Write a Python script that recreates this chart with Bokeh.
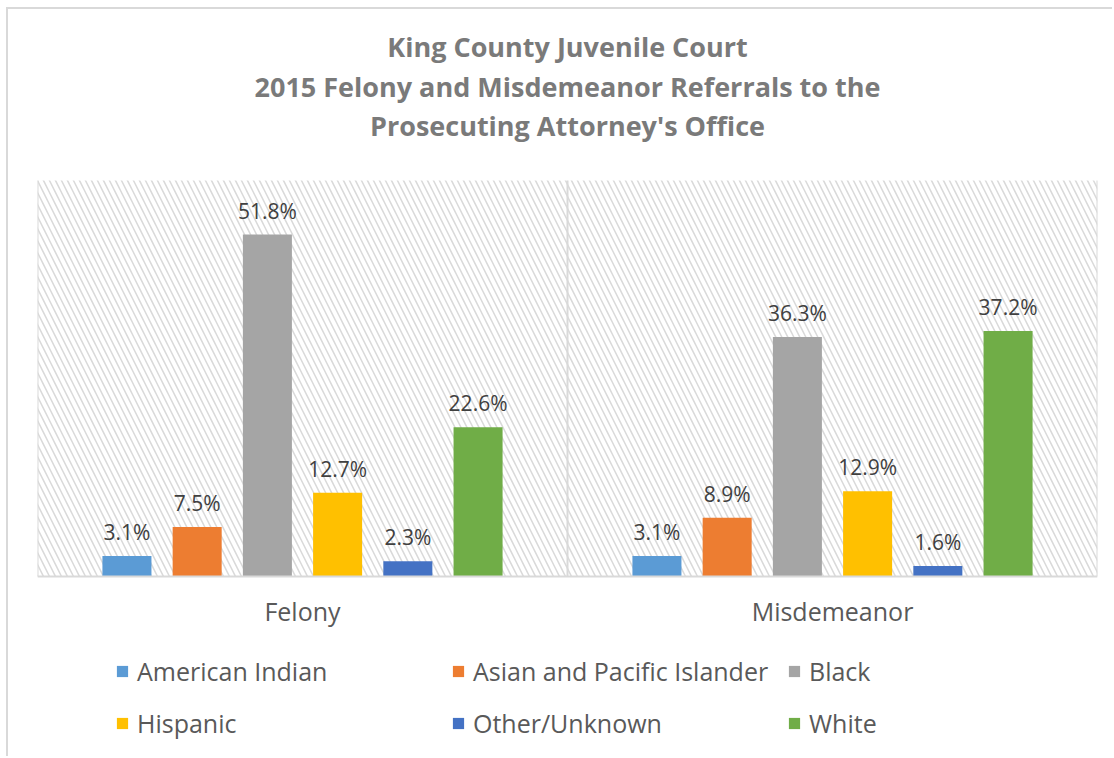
from bokeh.plotting import figure
from bokeh.models import (ColumnDataSource, FactorRange, Range1d, Span, BoxAnnotation,
                          Legend, LegendItem, Label)
from bokeh.transform import dodge
from bokeh.core.properties import value
from bokeh.embed import file_html
from bokeh.resources import INLINE

categories = ["Felony", "Misdemeanor"]
series = ["American Indian", "Asian and Pacific Islander", "Black",
          "Hispanic", "Other/Unknown", "White"]
felony = [3.1, 7.5, 51.8, 12.7, 2.3, 22.6]
misdemeanor = [3.1, 8.9, 36.3, 12.9, 1.6, 37.2]
colors = ["#5B9BD5", "#ED7D31", "#A5A5A5", "#FFC000", "#4472C4", "#70AD47"]
title_lines = ["King County Juvenile Court",
               "2015 Felony and Misdemeanor Referrals to the",
               "Prosecuting Attorney's Office"]
boundaries = [0, 1, 2]

FONT = "Open Sans"
Y_MAX = 60

p = figure(x_range=FactorRange(factors=categories, range_padding=0),
           y_range=Range1d(-27.576, 85.909),
           width=1106, height=749, output_backend="svg", toolbar_location=None,
           min_border_left=29, min_border_right=17, min_border_top=0,
           min_border_bottom=0)
p.styles = {"border-left": "2px solid #d9d9d9", "border-top": "2px solid #d9d9d9",
            "margin-left": "6px", "margin-top": "7px"}

p.outline_line_color = None
p.background_fill_color = "white"
p.border_fill_color = "white"
p.xaxis.visible = False
p.yaxis.visible = False
p.ygrid.visible = False
p.xgrid.visible = False

# plot-area background pattern and frame lines
p.add_layout(BoxAnnotation(bottom=0, top=Y_MAX, fill_alpha=0, line_color=None,
                           hatch_pattern="\\", hatch_color="#d9d9d9",
                           hatch_scale=12, hatch_weight=1.5, level="underlay"))
p.segment(x0=boundaries, y0=0, x1=boundaries, y1=Y_MAX,
          line_color="#d9d9d9", line_width=2, level="underlay")
p.add_layout(Span(location=0, dimension="width", line_color="#d9d9d9",
                  line_width=2))

pitch = 0.1325
bw = 0.0925
renderers = []
for i, name in enumerate(series):
    vals = [felony[i], misdemeanor[i]]
    src = ColumnDataSource(dict(cat=categories, val=vals,
                                lab=[f"{v}%" for v in vals]))
    off = (i - 2.5) * pitch
    r = p.vbar(x=dodge("cat", off, range=p.x_range), top="val", width=bw,
               source=src, fill_color=colors[i], line_color=None)
    p.text(x=dodge("cat", off, range=p.x_range), y="val", text="lab", source=src,
           text_align="center", text_baseline="alphabetic", y_offset=-24,
           text_font=value(FONT), text_font_size="21px", text_color="#404040")
    renderers.append(r)

# category labels under the baseline
p.text(x=categories, y=[0] * len(categories), text=categories,
       text_align="center", text_baseline="alphabetic", y_offset=35,
       text_font=value(FONT), text_font_size="25px", text_color="#595959")

# legend fills column by column: order items so rows read in series order
ncols = 3
order = [r * ncols + c for c in range(ncols) for r in range(2)]
items = [LegendItem(label=series[k], renderers=[renderers[k]]) for k in order]
legend = Legend(items=items, ncols=ncols, location=(78, 18),
                glyph_width=14, glyph_height=14, label_standoff=8,
                label_width=296, label_height=33, spacing=18,
                label_text_font=FONT, label_text_font_size="25px",
                label_text_color="#595959", border_line_color=None,
                background_fill_alpha=0, padding=0, margin=0)
p.add_layout(legend, "center")

for line, ys in zip(title_lines, [712, 672, 633]):
    p.add_layout(Label(x=530, y=ys, x_units="screen", y_units="screen", text=line,
                       text_align="center", text_baseline="alphabetic",
                       text_font=FONT, text_font_size="27px",
                       text_font_style="bold", text_color="#7a7a7a"))

open("out.html", "w").write(file_html(p, INLINE))
